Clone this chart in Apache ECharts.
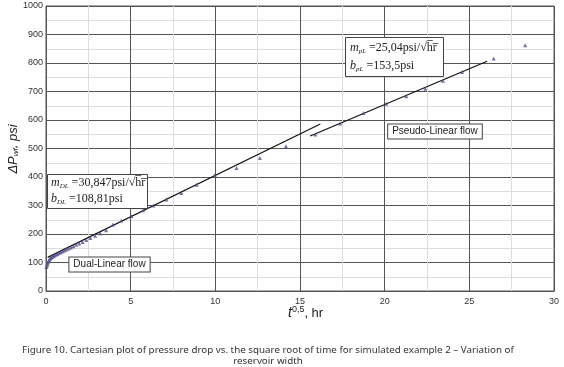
<!DOCTYPE html>
<html>
<head>
<meta charset="utf-8">
<script src="https://cdn.jsdelivr.net/npm/echarts@6/dist/echarts.min.js"></script>
<style>
  html, body { margin: 0; padding: 0; background: #fff; }
  #chart { width: 564px; height: 367px; }
</style>
</head>
<body>
<div id="chart"></div>
<script>
// simulated well test points, sqrt(t) vs pressure drop
let tSqrt = [0.03, 0.06, 0.09, 0.12, 0.16, 0.2, 0.25, 0.3, 0.36, 0.42, 0.5, 0.58, 0.67, 0.76, 0.86, 0.97, 1.08, 1.2, 1.33, 1.47,
    1.62, 1.78, 1.96, 2.16, 2.38, 2.62, 2.9, 3.2, 3.55, 3.95, 4.45, 5.05, 5.73, 6.35, 7.1, 8.0, 8.9, 9.97, 11.25, 12.63,
    14.17, 15.9, 17.37, 18.75, 20.09, 21.27, 22.4, 23.44, 24.57, 26.44, 28.3]
let dP = [84, 90, 96, 101, 106, 110, 114, 117, 120, 122, 125, 127, 130, 133, 136, 139, 142, 146, 149, 153,
    157, 162, 167, 172, 179, 186, 194, 203, 213, 233, 247, 262, 283, 300, 321, 344, 373, 406, 432, 467,
    508, 549, 588, 625, 657, 683, 710, 738, 768, 816, 862]

// fitted straight lines (end points)
let dualLine = [[0.1, 118], [16.2, 586]]
let pseudoLine = [[15.6, 544], [26.05, 806]]

let xTicks = [0, 5, 10, 15, 20, 25, 30]
let yTicks = [0, 100, 200, 300, 400, 500, 600, 700, 800, 900, 1000]

let pts = tSqrt.map((t, i) => [t, dP[i]])

let chart = echarts.init(document.getElementById('chart'))

let serif = '"Liberation Serif", "DejaVu Serif", serif'
let sans = '"Liberation Sans", Arial, sans-serif'

// rich styles for the fit boxes
let fitRich = {
    m: {fontSize: 12, fontStyle: 'italic', fontFamily: serif, fill: '#222'},
    s: {fontSize: 7, fontStyle: 'italic', fontFamily: serif, fill: '#222', padding: [7, 0, 0, 0]},
    t: {fontSize: 12, fontFamily: serif, fill: '#222'}
}

chart.setOption({
    animation: false,
    grid: {left: 46, right: 10, top: 6, bottom: 76, show: true, borderColor: '#555', borderWidth: 1},
    xAxis: {
        type: 'value', min: xTicks[0], max: xTicks[xTicks.length - 1], interval: 5,
        axisLine: {lineStyle: {color: '#555'}},
        axisTick: {show: false},
        axisLabel: {color: '#333', fontSize: 9, fontFamily: sans, margin: 6},
        splitLine: {lineStyle: {color: '#555', width: 1}},
        minorTick: {show: false, splitNumber: 2},
        minorSplitLine: {show: true, lineStyle: {color: '#ddd', width: 1}}
    },
    yAxis: {
        type: 'value', min: yTicks[0], max: yTicks[yTicks.length - 1], interval: 100,
        axisLine: {show: true, lineStyle: {color: '#555'}},
        axisTick: {show: false},
        axisLabel: {color: '#333', fontSize: 9, fontFamily: sans, margin: 3, formatter: v => String(v)},
        splitLine: {lineStyle: {color: '#555', width: 1}},
        minorTick: {show: false, splitNumber: 2},
        minorSplitLine: {show: true, lineStyle: {color: '#ddd', width: 1}}
    },
    series: [
        {
            type: 'line', data: dualLine, showSymbol: false, symbol: 'none',
            lineStyle: {color: '#111', width: 1.2}, z: 3
        },
        {
            type: 'line', data: pseudoLine, showSymbol: false, symbol: 'none',
            lineStyle: {color: '#111', width: 1.2}, z: 3
        },
        {
            type: 'scatter', data: pts, symbol: 'triangle', symbolSize: 4,
            itemStyle: {color: '#50508a'}, z: 4
        }
    ],
    graphic: [
        // y axis name
        {
            type: 'text', x: 13, y: 149, rotation: Math.PI / 2, z: 10,
            style: {
                text: '{a|ΔP}{s|wf}{a|, psi}', align: 'center', verticalAlign: 'middle',
                rich: {
                    a: {fontSize: 13, fontStyle: 'italic', fontFamily: sans, fill: '#222'},
                    s: {fontSize: 8, fontStyle: 'italic', fontFamily: sans, fill: '#222', padding: [6, 0, 0, 0]}
                }
            }
        },
        // x axis name
        {
            type: 'text', x: 288, y: 305, z: 10,
            style: {
                text: '{t|t}{s|0,5}{a|, hr}', verticalAlign: 'top',
                rich: {
                    t: {fontSize: 14, fontStyle: 'italic', fontFamily: sans, fill: '#222'},
                    s: {fontSize: 9, fontFamily: sans, fill: '#222', verticalAlign: 'top', padding: [0, 0, 8, 0]},
                    a: {fontSize: 13, fontFamily: sans, fill: '#222'}
                }
            }
        },
        // pseudo-linear fit box
        {
            type: 'rect', shape: {x: 345.5, y: 37.5, width: 98, height: 39}, z: 10,
            style: {fill: '#fff', stroke: '#444', lineWidth: 1}
        },
        {
            type: 'text', x: 350, y: 39, z: 11,
            style: {
                text: '{m|m}{s|pL}{t| =25,04psi/√h\u0305r\u0305}\n{m|b}{s|pL}{t| =153,5psi}',
                lineHeight: 18, rich: fitRich
            }
        },
        // dual-linear fit box
        {
            type: 'rect', shape: {x: 47.5, y: 174.5, width: 100, height: 34}, z: 10,
            style: {fill: '#fff', stroke: '#444', lineWidth: 1}
        },
        {
            type: 'text', x: 51, y: 175, z: 11,
            style: {
                text: '{m|m}{s|DL}{t| =30,847psi/√h\u0305r\u0305}\n{m|b}{s|DL}{t| =108,81psi}',
                lineHeight: 16, rich: fitRich
            }
        },
        // flow regime labels
        {
            type: 'text', x: 109.5, y: 264.5, z: 11,
            style: {
                text: 'Dual-Linear flow', align: 'center', verticalAlign: 'middle',
                fontSize: 10, fontFamily: sans, fill: '#222',
                backgroundColor: '#fff', borderColor: '#444', borderWidth: 1, padding: [2, 4, 2, 4]
            }
        },
        {
            type: 'text', x: 435, y: 131.5, z: 11,
            style: {
                text: 'Pseudo-Linear flow', align: 'center', verticalAlign: 'middle',
                fontSize: 10, fontFamily: sans, fill: '#222',
                backgroundColor: '#fff', borderColor: '#444', borderWidth: 1, padding: [2, 4, 2, 4]
            }
        },
        // caption
        {
            type: 'text', x: 268, y: 344, z: 11,
            style: {
                text: 'Figure 10. Cartesian plot of pressure drop vs. the square root of time for simulated example 2 – Variation of\nreservoir width',
                align: 'center', verticalAlign: 'top', lineHeight: 11.5,
                fontSize: 9.8, fontFamily: '"Noto Sans", sans-serif', fill: '#333'
            }
        }
    ]
})
</script>
</body>
</html>
